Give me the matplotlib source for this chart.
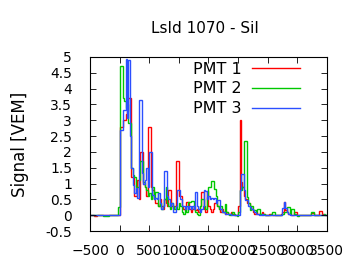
import numpy as np
import matplotlib
matplotlib.use('Agg')
from matplotlib import pyplot as plt
from matplotlib.ticker import FormatStrFormatter

# trace binning: 25 ns bins from -500 ns to 3500 ns
t_start = -500
t_stop = 3500
bin_width = 25

# PMT 1 (red), values in VEM per 25 ns bin
pmt1_pre = [0, 0, 0, -0.04, -0.04, 0, 0, 0, 0, 0, 0, 0, 0, 0, 0, 0, 0, 0, 0, 0]
pmt1 = [
    2.8, 2.8, 3.0, 3.0, 3.2, 3.3, 3.7, 3.7, 1.2, 1.2, 0.6, 0.6, 1.1, 0.5, 2.0, 2.0, 1.0, 0.9, 0.6, 2.8,
    2.8, 0.9, 0.8, 0.5, 0.4, 0.38, 0.3, 0.5, 0.3, 0.2, 0.5, 0.4, 0.3, 0.8, 0.8, 0.3, 0.2, 0.3, 1.7, 1.7,
    0.6, 0.6, 0.3, 0.2, 0.15, 0.43, 0.43, 0.2, 0.1, 0.2, 0.3, 0.15, 0.2, 0.1, 0.3, 0.74, 0.74, 0.2, 0.1, 0.75,
    0.3, 0.2, 0.1, 0.2, 0.4, 0.4, 0.3, 0.2, 0.1, 0.2, 0.1, 0.05, 0.1, 0.05, 0.05, 0.1, 0.05, 0.0, 0.0, 0.0,
    0.3, 3.0, 1.06, 0.9, 0.6, 0.5, 0.4, 0.38, 0.3, 0.2, 0.1, 0.05, 0.1, 0.05, 0.04, 0.05, 0.1, 0.05, 0.0, 0.0,
    0.0, 0.05, 0.05, 0.0, 0.0, 0.0, 0.0, 0.0, 0.0, 0.05, 0.1, 0.42, 0.15, 0.1, 0.05, 0.05, 0.0, 0.0, 0.11, 0.11,
    0.0, 0.0, 0.0, 0.0, 0.0, 0.0, 0.0, 0.0, 0.0, 0.07, 0.07, 0.0, 0.0, 0.0, 0.0, 0.12, 0.12, 0.05, 0.0, 0.0,
]

# PMT 2 (green)
pmt2_pre = [0, 0, 0, 0, 0, 0, 0, 0, 0, -0.03, -0.03, -0.03, -0.03, 0, 0, 0, 0, 0, 0, 0.25]
pmt2 = [
    4.7, 4.7, 3.7, 3.6, 3.4, 3.5, 2.9, 2.9, 1.5, 1.27, 1.2, 0.9, 0.9, 1.1, 1.7, 1.7, 1.05, 0.9, 0.8, 0.6,
    0.7, 0.5, 0.9, 0.5, 0.74, 0.74, 0.3, 0.4, 0.2, 0.3, 0.5, 0.9, 0.4, 0.3, 0.2, 0.4, 0.3, 0.2, 0.3, 0.2,
    0.4, 0.3, 0.1, 0.05, 0.2, 0.1, 0.43, 0.43, 0.45, 0.45, 0.2, 0.1, 0.05, 0.0, 0.3, 0.5, 0.5, 0.3, 0.2, 0.59,
    0.9, 0.9, 1.08, 1.08, 0.83, 0.6, 0.3, 0.2, 0.3, 0.1, 0.1, 0.35, 0.1, 0.05, 0.0, 0.05, 0.1, 0.05, 0.0, -0.03,
    0.1, 0.8, 0.8, 0.9, 2.35, 2.35, 0.59, 0.4, 0.16, 0.3, 0.16, 0.16, 0.1, 0.2, 0.2, 0.05, 0.0, 0.05, 0.0, 0.0,
    0.0, 0.0, 0.05, 0.1, 0.1, 0.0, 0.0, 0.0, 0.0, 0.0, 0.05, 0.1, 0.1, 0.26, 0.26, 0.05, 0.2, 0.2, 0.05, 0.0,
    -0.03, 0.0, 0.0, 0.0, 0.0, 0.0, 0.0, 0.0, 0.0, 0.1, 0.1, 0.0, 0.0, 0.0, 0.0, 0.0, 0.0, 0.0, 0.05, 0.0,
]

# PMT 3 (blue)
pmt3_pre = [0] * 20
pmt3 = [
    2.7, 2.7, 3.33, 3.33, 4.94, 3.07, 4.9, 2.5, 1.5, 0.96, 0.7, 0.85, 0.55, 3.65, 3.65, 1.33, 1.0, 1.1, 1.5, 0.9,
    2.0, 2.0, 0.64, 0.5, 0.55, 0.5, 0.7, 0.4, 0.2, 0.3, 1.4, 1.4, 0.6, 0.5, 0.3, 0.4, 0.1, 0.1, 0.3, 0.8,
    0.8, 0.5, 0.3, 0.3, 0.2, 0.3, 0.2, 0.3, 0.2, 0.3, 0.2, 0.74, 0.3, 0.2, 0.1, 0.2, 0.3, 0.8, 0.77, 0.5,
    0.6, 0.5, 0.55, 0.5, 0.55, 0.4, 0.48, 0.48, 0.2, 0.1, 0.1, 0.05, 0.05, 0.05, 0.05, 0.0, 0.0, 0.0, 0.0, 0.0,
    0.0, 0.8, 1.29, 1.29, 0.8, 0.48, 0.48, 0.3, 0.25, 0.2, 0.15, 0.1, 0.05, 0.05, 0.0, 0.0, 0.05, 0.0, 0.0, 0.0,
    0.0, 0.0, 0.0, 0.0, 0.0, 0.0, 0.0, 0.0, 0.0, 0.0, 0.23, 0.41, 0.23, 0.1, 0.05, 0.0, 0.0, 0.0, 0.0, 0.0,
    0.0, 0.0, 0.0, 0.0, 0.0, 0.0, 0.0, 0.0, 0.0, 0.0, 0.0, 0.0, 0.0, 0.0, 0.0, 0.0, 0.0, 0.0, 0.0, 0.0,
]

labels = ['PMT 1', 'PMT 2', 'PMT 3']
colors = ['#ff0000', '#00c800', '#2b4fff']
title = 'LsId 1070 - SiI'


def visualize():
    edges = np.arange(t_start, t_stop + bin_width, bin_width)
    traces = [pmt1_pre + pmt1, pmt2_pre + pmt2, pmt3_pre + pmt3]

    fig = plt.figure(figsize=(3.6, 2.7), dpi=100)
    ax = fig.add_axes([0.25, 0.1444, 0.658, 0.6445])

    for vals, lab, col in zip(traces, labels, colors):
        ax.stairs(vals, edges, color=col, lw=1.0, label=lab)

    ax.set_xlim(-500, 3500)
    ax.set_ylim(-0.5, 5)
    ax.set_xticks(np.arange(-500, 3501, 500))
    ax.set_yticks(np.arange(-0.5, 5.01, 0.5))
    ax.yaxis.set_major_formatter(FormatStrFormatter('%g'))
    ax.tick_params(direction='in', top=True, right=True, length=4, width=0.6,
                   labelsize=10, colors='black')
    ax.tick_params(axis='x', pad=9)
    ax.tick_params(axis='y', pad=13)
    for s in ax.spines.values():
        s.set_linewidth(0.8)

    ax.set_ylabel('Signal [VEM]', fontsize=12, labelpad=12)
    fig.text(0.57, 0.895, title, ha='center', va='center', fontsize=11)

    ax.legend(loc='upper right', bbox_to_anchor=(0.915, 1.01), frameon=False,
              markerfirst=False, fontsize=11.5, handlelength=3.0, handletextpad=0.7,
              labelspacing=0.3, borderaxespad=0)

    plt.savefig('out.png', dpi=100)


if __name__ == '__main__':
    visualize()
